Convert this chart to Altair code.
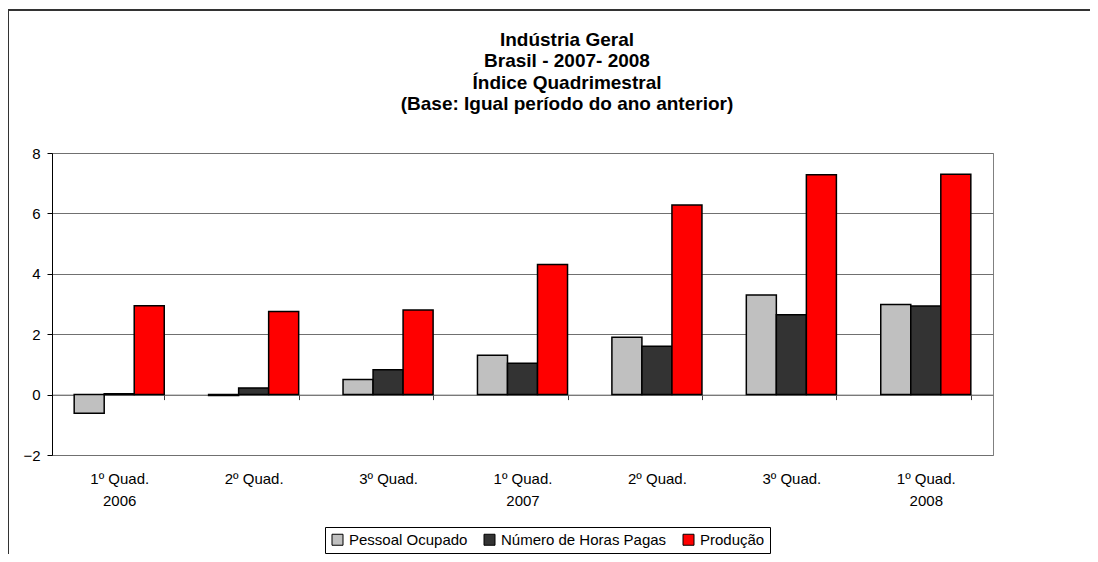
import altair as alt
import pandas as pd

categories = ["1º Quad. 2006", "2º Quad. 2006", "3º Quad. 2006",
              "1º Quad. 2007", "2º Quad. 2007", "3º Quad. 2007", "1º Quad. 2008"]
tick_line1 = ["1º Quad.", "2º Quad.", "3º Quad.", "1º Quad.", "2º Quad.", "3º Quad.", "1º Quad."]
tick_line2 = ["2006", "", "", "2007", "", "", "2008"]
series = ["Pessoal Ocupado", "Número de Horas Pagas", "Produção"]
colors = ["#C0C0C0", "#333333", "#FF0000"]
pessoal = [-0.62, -0.03, 0.50, 1.30, 1.90, 3.30, 2.98]
horas = [0.03, 0.22, 0.82, 1.04, 1.60, 2.64, 2.93]
producao = [2.94, 2.75, 2.80, 4.31, 6.28, 7.28, 7.30]
title_lines = ["Indústria Geral", "Brasil - 2007- 2008", "Índice Quadrimestral",
               "(Base: Igual período do ano anterior)"]

rows = []
for vals, s in zip([pessoal, horas, producao], series):
    for c, v in zip(categories, vals):
        rows.append({"cat": c, "serie": s, "valor": v})
df = pd.DataFrame(rows)

# label expression built from tick label lists
parts = []
for c, l1, l2 in zip(categories, tick_line1, tick_line2):
    if l2:
        parts.append(f"datum.value == '{c}' ? ['{l1}', '{l2}']")
    else:
        parts.append(f"datum.value == '{c}' ? '{l1}'")
label_expr = " : ".join(parts) + " : datum.value"

FONT = "Liberation Sans"
W, H = 941, 302

bars = alt.Chart(df).mark_bar(stroke="black", strokeWidth=1.5).encode(
    x=alt.X("cat:N", sort=categories,
            scale=alt.Scale(paddingInner=0.33, paddingOuter=0.165),
            axis=alt.Axis(title=None, labelAngle=0, tickBand="extent", offset=-60.4,
                          labelPadding=72, domainColor="#808080", tickColor="#404040",
                          tickSize=5, labelExpr=label_expr, labelFontSize=15,
                          labelLineHeight=22, labelColor="black", grid=False,
                          labelFont=FONT)),
    xOffset=alt.XOffset("serie:N", sort=series, scale=alt.Scale(paddingInner=0, paddingOuter=0)),
    y=alt.Y("valor:Q", scale=alt.Scale(domain=[-2, 8], nice=False),
            axis=alt.Axis(values=[-2, 0, 2, 4, 6, 8], title=None, domainColor="black",
                          tickColor="black", tickSize=5, labelPadding=7,
                          gridColor="#707070", gridWidth=1, labelFontSize=15,
                          labelColor="black", labelFont=FONT)),
    color=alt.Color("serie:N", sort=series,
                    scale=alt.Scale(domain=series, range=colors),
                    legend=alt.Legend(title=None, orient="none", legendX=273, legendY=374,
                                      direction="horizontal", strokeColor="black",
                                      padding=5, symbolType="square", symbolSize=121,
                                      symbolStrokeColor="black", symbolStrokeWidth=1,
                                      labelFontSize=15, labelFont=FONT, labelColor="black",
                                      labelLimit=0, columnPadding=14, labelOffset=4)),
)

frame = alt.Chart(pd.DataFrame({"a": [0]})).mark_rect(
    fill=None, stroke="#333333", strokeWidth=2
).encode(x=alt.value(-44), x2=alt.value(1200), y=alt.value(-143), y2=alt.value(800))

title = alt.Chart(pd.DataFrame({"a": [0]})).mark_text(
    fontSize=19, fontWeight="bold", font=FONT, lineHeight=21.3, align="center",
    baseline="top", color="black"
).encode(x=alt.value(515), y=alt.value(-122), text=alt.value(title_lines))

chart = alt.layer(frame, bars, title).properties(
    width=W, height=H,
    padding={"left": 44, "top": 145, "right": 97, "bottom": 99},
    autosize=alt.AutoSizeParams(type="none"),
).configure_view(stroke="#808080", strokeWidth=1)

chart.save("out.html", embed_options={"renderer": "svg", "actions": False})
